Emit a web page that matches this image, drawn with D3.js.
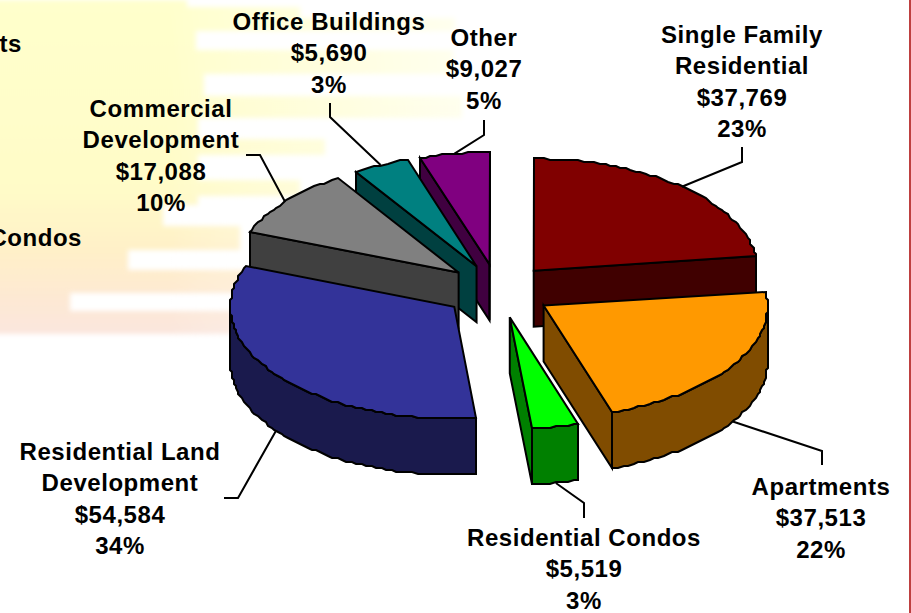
<!DOCTYPE html>
<html><head><meta charset="utf-8">
<script src="https://cdn.jsdelivr.net/npm/d3@7/dist/d3.min.js"></script>
<style>html,body{margin:0;padding:0;background:#fff;overflow:hidden}svg{display:block}</style>
</head><body><svg id="c" width="911" height="613"></svg>
<script>
const categories=["Single Family Residential","Apartments","Residential Condos","Residential Land Development","Commercial Development","Office Buildings","Other"];
const amounts=[37769,37513,5519,54584,17088,5690,9027];
const percents=[23,22,3,34,10,3,5];
const topColors=["#800000","#ff9900","#00ff00","#333399","#808080","#008080","#800080"];
const wallColors=["#400000","#804c00","#008000","#1a1a4d","#404040","#004040","#400040"];

// Layout only: label wrapped lines, centre, first-line y, and leader elbows.
const labelLines=[["Single Family","Residential"],["Apartments"],["Residential Condos"],["Residential Land","Development"],["Commercial","Development"],["Office Buildings"],["Other"]];
const labelPos=[[742,43],[821,495],[584,546],[120,460],[161,117],[329,30],[484,46]];
const leaderElbows=[[[742,162],[742,147]],[[822,451],[822,465]],[[584,503],[584,518]],[[238,498],[224,498]],[[260,155],[246,155]],[[330,117],[330,103]],[[484,135],[484,120]]];
const drawOrder=[6,5,4,0,3,2,1];

const svg=d3.select("#c");
const defs=svg.append("defs");
const W=911,H=613;

// Background texture
const bg=defs.append("linearGradient").attr("id","bgGrad").attr("gradientUnits","userSpaceOnUse").attr("x1",0).attr("y1",0).attr("x2",0).attr("y2",335);
[[0,"#ffffcc"],[.55,"#fffcc8"],[.75,"#fff0c8"],[.9,"#fde8d4"],[1,"#fbe6de"]].forEach(s=>bg.append("stop").attr("offset",s[0]).attr("stop-color",s[1]));
const fade=defs.append("linearGradient").attr("id","fade").attr("gradientUnits","userSpaceOnUse").attr("x1",170).attr("y1",0).attr("x2",470).attr("y2",0);
[[0,0],[.1,.1],[1,.7]].forEach(s=>fade.append("stop").attr("offset",s[0]).attr("stop-color","#fff").attr("stop-opacity",s[1]));
defs.append("filter").attr("id","soft").attr("x","-5%").attr("y","-5%").attr("width","110%").attr("height","110%").append("feGaussianBlur").attr("stdDeviation",2.4);
const bands=[[0,7,187],[7,18,300],[18,31,455],[31,50,196],[50,74,453],[74,96,204],[96,118,462],[118,139,198],[139,155,325],[155,163,198],[163,180,198],[180,196,300],[196,205,198],[205,226,163],[226,250,240],[250,270,128],[270,293,250],[293,311,70],[311,334,232]];
const bgG=svg.append("g").attr("filter","url(#soft)");
bgG.selectAll("rect").data(bands).join("rect")
  .attr("x",-10).attr("y",d=>d[0]).attr("width",d=>d[2]+10).attr("height",d=>d[1]-d[0]).attr("fill","url(#bgGrad)");
bgG.append("rect").attr("x",170).attr("y",-10).attr("width",310).attr("height",350).attr("fill","url(#fade)");

// Pie projection
const cx=498,cy=291,rx=224,ry=112,depth=56,explode=54;
const deg=Math.PI/180;
const pie=d3.pie().sort(null).value(d=>d).startAngle(0).endAngle(2*Math.PI);
const arcs=pie(percents);
const warp=d3.scaleLinear().domain([0,162,173,295,331,342,360].map(v=>v*deg)).range([0,162,174.5,291,327,342,360].map(v=>v*deg));
const px=d3.scaleLinear().domain([-1,1]).range([-rx,rx]);
const py=d3.scaleLinear().domain([-1,1]).range([-ry,ry]);
const proj=(a,r=1)=>[px(r*Math.sin(a)),py(-r*Math.cos(a))];
const line=d3.line();
const jag=v=>Math.round(v/2)*2;
function arcPoints(a0,a1){const n=Math.max(3,Math.round((a1-a0)/0.025));return d3.range(n+1).map(i=>a0+(a1-a0)*i/n);}

const chart=svg.append("g");
function apexOf(d){const mid=(d.startAngle+d.endAngle)/2,e=proj(mid,explode/rx);return [cx+e[0],cy+e[1]];}
drawOrder.forEach(i=>{
  const d=arcs[i];
  const apex=apexOf(d),[ax,ay]=apex;
  const angles=arcPoints(d.startAngle,d.endAngle);
  const pts=angles.map(a=>{const p=proj(warp(a));return [jag(ax+p[0]),jag(ay+p[1])];});
  const g=chart.append("g");
  const down=p=>[p[0],p[1]+depth];
  const wall=(ps)=>{const poly=ps.concat(ps.slice().reverse().map(down));
    g.append("path").attr("d",line(poly)+"Z").attr("fill",wallColors[i]).attr("stroke","#000").attr("stroke-width",2).attr("stroke-linejoin","miter");};
  if(pts[0][0]<apex[0]) wall([apex,pts[0]]);
  let run=[];
  pts.forEach((p,k)=>{ if(k<pts.length-1 && pts[k+1][0]<=p[0] && Math.cos(warp(angles[k]))<0.02) run.push(p); else if(run.length){run.push(p);wall(run);run=[];} });
  if(pts[pts.length-1][0]>apex[0]) wall([pts[pts.length-1],apex]);
  g.append("path").attr("d",line([apex,...pts])+"Z").attr("fill",topColors[i]).attr("stroke","#000").attr("stroke-width",2).attr("stroke-linejoin","miter");
});

// Leaders
arcs.forEach((d,i)=>{
  const mid=warp((d.startAngle+d.endAngle)/2);
  const a=apexOf(d),p=proj(mid);
  const front=Math.cos(mid)<0;
  const start=[a[0]+p[0],a[1]+p[1]+(front?depth:0)];
  svg.append("path").attr("d",line([start,...leaderElbows[i]])).attr("fill","none").attr("stroke","#000").attr("stroke-width",2);
});

// Labels
const fmt=d3.format("$,");
const lh=31.3;
const textG=svg.append("g").attr("font-family","'Liberation Sans',Arial,sans-serif").attr("font-weight","bold").attr("font-size",24).attr("fill","#000").attr("text-anchor","middle").attr("letter-spacing",0.55);
categories.forEach((c,i)=>{
  const rows=[...labelLines[i],fmt(amounts[i]),percents[i]+"%"];
  rows.forEach((t,k)=>textG.append("text").attr("x",labelPos[i][0]).attr("y",labelPos[i][1]+k*lh).text(t));
});
textG.append("text").attr("x",22).attr("y",52).attr("text-anchor","end").text("ts");
textG.append("text").attr("x",82).attr("y",246).attr("text-anchor","end").text("Condos");

// Right frame line
svg.append("line").attr("x1",910).attr("x2",910).attr("y1",0).attr("y2",H).attr("stroke","#a80000").attr("stroke-width",1.5);
</script></body></html>
